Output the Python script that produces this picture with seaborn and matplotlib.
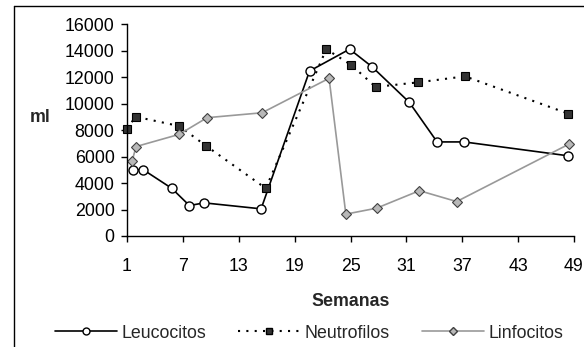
import matplotlib
matplotlib.use("Agg")
import matplotlib.pyplot as plt
import seaborn as sns
from matplotlib.lines import Line2D

sns.set_style("white")
plt.rcParams['font.family'] = ['Liberation Sans', 'DejaVu Sans']

leuco_x = [1.6, 2.75, 5.8, 7.7, 9.3, 15.4, 20.6, 24.9, 27.3, 31.3, 34.3, 37.2, 48.4]
leuco_y = [5000, 5000, 3600, 2300, 2500, 2050, 12450, 14100, 12780, 10100, 7100, 7100, 6050]

neutro_x = [0.95, 1.95, 6.6, 9.5, 15.9, 22.4, 25.1, 27.7, 32.3, 37.3, 48.4]
neutro_y = [8100, 9000, 8300, 6800, 3600, 14100, 12900, 11250, 11600, 12050, 9230]

linfo_x = [1.55, 1.97, 6.6, 9.6, 15.5, 22.7, 24.5, 27.8, 32.4, 36.4, 48.5]
linfo_y = [5650, 6750, 7670, 8930, 9300, 11900, 1650, 2100, 3420, 2600, 6950]

x_ticks = [1, 7, 13, 19, 25, 31, 37, 43, 49]
y_ticks = [0, 2000, 4000, 6000, 8000, 10000, 12000, 14000, 16000]

fig = plt.figure(figsize=(5.84, 3.47), dpi=100)
ax = fig.add_axes([127/584, 1-236/347, (574-127)/584, (236-24)/347])

sns.lineplot(x=leuco_x, y=leuco_y, ax=ax, sort=False, estimator=None, color='black',
             linewidth=1.2, marker='o', markersize=6.5, markerfacecolor='white',
             markeredgecolor='black', markeredgewidth=1.0, clip_on=False)
sns.lineplot(x=neutro_x, y=neutro_y, ax=ax, sort=False, estimator=None, color='black',
             linewidth=1.5, linestyle=(0, (1, 3)), marker='s', markersize=6,
             markerfacecolor='#333333', markeredgecolor='black', markeredgewidth=0.8,
             clip_on=False)
sns.lineplot(x=linfo_x, y=linfo_y, ax=ax, sort=False, estimator=None, color='#999999',
             linewidth=1.2, marker='D', markersize=5.5, markerfacecolor='#B8B8B8',
             markeredgecolor='#404040', markeredgewidth=0.8, clip_on=False)

ax.set_xlim(1, 49)
ax.set_ylim(0, 16000)
ax.set_xticks(x_ticks)
ax.set_yticks(y_ticks)
ax.tick_params(axis='both', direction='out', length=4, width=1, color='black',
               labelsize=12.8, labelcolor='black', left=True, bottom=True)
ax.tick_params(axis='x', pad=12)
ax.tick_params(axis='y', pad=5)
for s in ['top', 'right']:
    ax.spines[s].set_visible(False)
for s in ['left', 'bottom']:
    ax.spines[s].set_color('black')
    ax.spines[s].set_linewidth(1)

ax.set_xlabel('Semanas', fontsize=12.8, fontweight='bold', labelpad=13)
ax.set_ylabel('ml', fontsize=12.8, fontweight='bold', rotation=0, labelpad=0)
ax.yaxis.set_label_coords(-0.195, 0.52)

handles = [
    Line2D([], [], color='black', linewidth=1.2, marker='o', markersize=5,
           markerfacecolor='white', markeredgecolor='black'),
    Line2D([], [], color='black', linewidth=1.5, linestyle=(0, (1, 3)), marker='s',
           markersize=5, markerfacecolor='#333333', markeredgecolor='black'),
    Line2D([], [], color='#999999', linewidth=1.2, marker='D', markersize=4.5,
           markerfacecolor='#B8B8B8', markeredgecolor='#404040'),
]
fig.legend(handles, ['Leucocitos', 'Neutrofilos', 'Linfocitos'], ncol=3,
           loc='center', bbox_to_anchor=(309/584, 1-333/347), frameon=False,
           fontsize=12.8, handlelength=3.5, handletextpad=0.25, columnspacing=1.8,
           borderaxespad=0)

fig.add_artist(Line2D([14/584, 1], [1-6/347, 1-6/347], color='black', linewidth=1,
                      transform=fig.transFigure))
fig.add_artist(Line2D([14/584, 14/584], [0, 1-6/347], color='black', linewidth=1,
                      transform=fig.transFigure))

fig.savefig('out.png', dpi=100)
